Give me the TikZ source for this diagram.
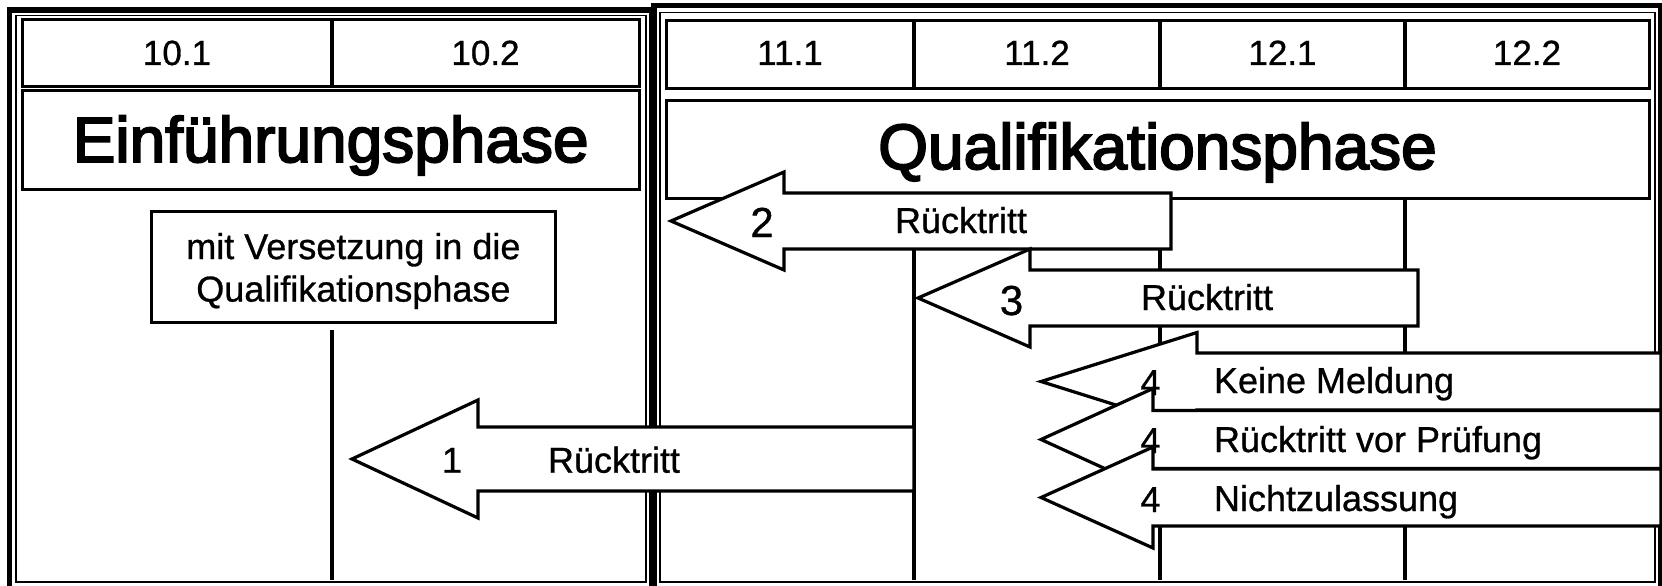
\documentclass[tikz,border=0pt]{standalone}
\usepackage{fontspec}
\setmainfont{Liberation Sans}
\newfontfamily\myTitleFont[FakeBold=3]{Liberation Sans}
\newfontfamily\myLabelFont[FakeBold=0.8]{Liberation Sans}
\newcommand\Pfeil[6]{% tip x, centre y, head x, right x, shaft half, head half
  \draw[arrowshape] (#1,#2) -- (#3,#2-#6) -- (#3,#2-#5) -- (#4,#2-#5)
    -- (#4,#2+#5) -- (#3,#2+#5) -- (#3,#2+#6) -- cycle;}
\begin{document}
\begin{tikzpicture}[x=1pt,y=-1pt,
  thickframe/.style={line width=5.5pt},
  thinframe/.style={line width=1.6pt},
  cell/.style={line width=3pt},
  divider/.style={line width=4pt},
  vline/.style={line width=4.5pt},
  arrowshape/.style={draw,line width=3.2pt,fill=white,line join=miter},
  txt/.style={inner sep=0pt,outer sep=0pt},
  hdr/.style={txt,font=\myLabelFont\fontsize{35}{42}\selectfont,anchor=base},
  title/.style={txt,font=\myTitleFont\fontsize{64}{77}\selectfont,anchor=base},
  lbl/.style={txt,font=\myLabelFont\fontsize{36}{43}\selectfont,anchor=base west},
  num/.style={txt,font=\myLabelFont\fontsize{36}{43}\selectfont,anchor=base},
  bignum/.style={txt,font=\myLabelFont\fontsize{42}{50}\selectfont,anchor=base},
]
\path[use as bounding box] (0,0) rectangle (1662,586);
\clip (0,0) rectangle (1662,586);
\fill[white] (0,0) rectangle (1662,586);

% panel frames
\draw[thickframe] (9.5,10) rectangle (652,590);
\draw[thinframe] (16,15.5) rectangle (646,582);
\draw[thickframe] (654,5.5) rectangle (1661,590);
\draw[thinframe] (660,12.5) rectangle (1655,582);

% left header and title box
\draw[cell] (22,19.5) rectangle (639.5,86.5);
\draw[divider] (332,19.5) -- (332,86.5);
\draw[cell] (22,90.5) rectangle (639.5,189.5);

% right header and title box
\draw[cell] (666,20.5) rectangle (1649.5,88.5);
\draw[divider] (914,20.5) -- (914,88.5);
\draw[divider] (1160,20.5) -- (1160,88.5);
\draw[divider] (1405,20.5) -- (1405,88.5);
\draw[cell] (666,100) rectangle (1649.5,198.5);

% header texts
\node[hdr] (h101) at (177,65) {10.1};
\node[hdr] (h102) at (485.5,65) {10.2};
\node[hdr] (h111) at (790,65) {11.1};
\node[hdr] (h112) at (1037,65) {11.2};
\node[hdr] (h121) at (1282.5,65) {12.1};
\node[hdr] (h122) at (1527,65) {12.2};

% titles
\node[title] (einf) at (330.7,162) {Einführungsphase};
\node[title] (qual) at (1157.5,169) {Qualifikationsphase};

% box "mit Versetzung"
\node[draw,cell,minimum width=403.3pt,minimum height=111pt,inner sep=0pt] (vbox) at (353.4,267.2) {};
\node[txt,align=center,font=\myLabelFont\fontsize{36}{42.5}\selectfont] (vtext) at (353.4,271) {mit Versetzung in die\\Qualifikationsphase};

% vertical time lines
\coordinate (v0top) at (332,330);
\coordinate (v0bot) at (332,580);
\coordinate (v1top) at (914,198.5);
\coordinate (v1bot) at (914,580);
\coordinate (v2top) at (1160,198.5);
\coordinate (v2bot) at (1160,580);
\coordinate (v3top) at (1405,198.5);
\coordinate (v3bot) at (1405,580);
\draw[vline] (v0top) -- (v0bot);
\draw[vline] (v1top) -- (v1bot);
\draw[vline] (v2top) -- (v2bot);
\draw[vline] (v3top) -- (v3bot);

% block arrows
\Pfeil{352}{459}{478}{914}{32}{59}
\Pfeil{671}{221}{784}{1171}{28}{49}
\Pfeil{918}{298}{1030}{1418}{28}{49}
\Pfeil{1041}{381.5}{1197}{1661}{28.5}{49}
\Pfeil{1041}{439.5}{1153}{1661}{29}{51}
\Pfeil{1041}{497.5}{1153}{1661}{28.5}{50.5}

% arrow labels
\node[num] (n1) at (452,472.7) {1};
\node[lbl] (r1) at (548,472.7) {Rücktritt};
\node[bignum] (n2) at (762,237) {2};
\node[lbl] (r2) at (895,233) {Rücktritt};
\node[bignum] (n3) at (1011.5,315) {3};
\node[lbl] (r3) at (1141,310) {Rücktritt};
\node[num] (n4a) at (1150.5,395) {4};
\node[lbl] (t4a) at (1214,393) {Keine Meldung};
\node[num] (n4b) at (1150.5,453) {4};
\node[lbl] (t4b) at (1214,452) {Rücktritt vor Prüfung};
\node[num] (n4c) at (1150.5,512) {4};
\node[lbl] (t4c) at (1214,511) {Nichtzulassung};
\end{tikzpicture}
\end{document}
